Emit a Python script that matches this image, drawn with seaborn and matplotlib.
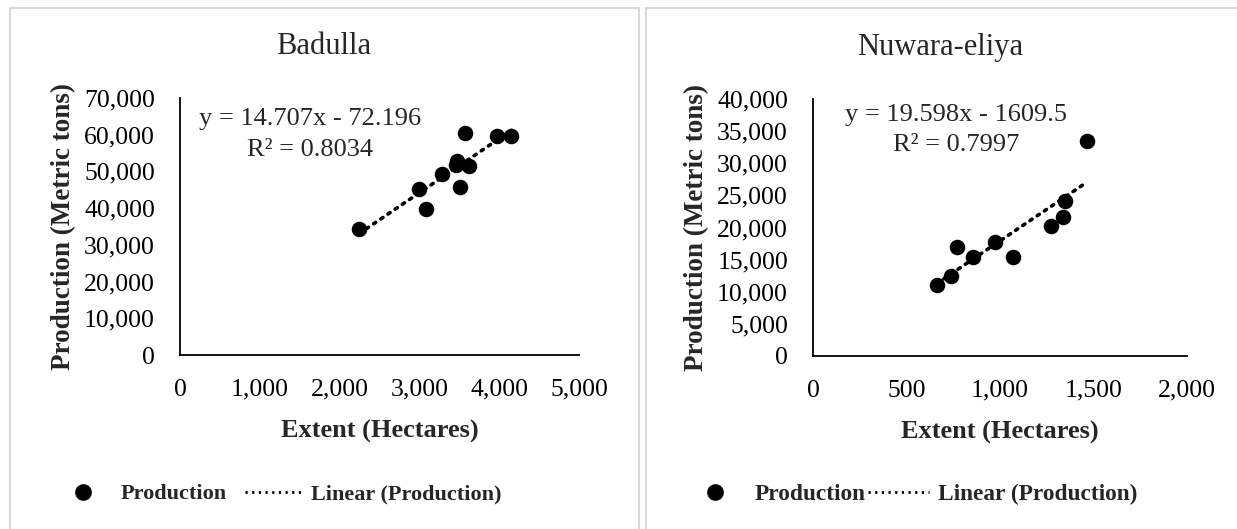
import numpy as np
import pandas as pd
import matplotlib
matplotlib.use('Agg')
import matplotlib.pyplot as plt
import matplotlib.ticker as mticker
from matplotlib.lines import Line2D
from matplotlib.patches import Rectangle
import seaborn as sns

# values
badulla_extent = [2247, 2999, 3079, 3287, 3455, 3471, 3622, 3509, 3575, 3969, 4152]
badulla_production = [34320, 45140, 39850, 49220, 51760, 52850, 51570, 45850, 60390, 59740, 59740]

nuwara_extent = [661, 738, 768, 854, 973, 1068, 1271, 1335, 1348, 1467]
nuwara_production = [11050, 12450, 17010, 15450, 17780, 15360, 20270, 21670, 24160, 33500]

titles = ['Badulla', 'Nuwara-eliya']
equations = [('y = 14.707x - 72.196', 'R² = 0.8034'),
             ('y = 19.598x - 1609.5', 'R² = 0.7997')]
x_label = 'Extent (Hectares)'
y_label = 'Production (Metric tons)'

sns.set_theme(style='white')
plt.rcParams['font.family'] = ['Liberation Serif', 'DejaVu Serif']

W, H = 1237, 529
fig = plt.figure(figsize=(W / 100, H / 100), dpi=100)

# chart area frames (light grey, like Excel)
fig.patches.append(Rectangle((10 / W, -0.05), 629 / W, 1.05 - 8 / H,
                             transform=fig.transFigure, fill=False,
                             ec='#d9d9d9', lw=1.5))
fig.patches.append(Rectangle((646 / W, -0.05), 0.6, 1.05 - 8 / H,
                             transform=fig.transFigure, fill=False,
                             ec='#d9d9d9', lw=1.5))

ax1 = fig.add_axes([180 / W, 1 - 355 / H, 399 / W, 257 / H])
ax2 = fig.add_axes([813 / W, 1 - 356 / H, 374 / W, 257 / H])

panels = [
    (ax1, badulla_extent, badulla_production, (0, 5000, 1000), (0, 70000, 10000)),
    (ax2, nuwara_extent, nuwara_production, (0, 2000, 500), (0, 40000, 5000)),
]

fmt = mticker.FuncFormatter(lambda v, p: '{:,.0f}'.format(v))

for i, (ax, xs, ys, xl, yl) in enumerate(panels):
    df = pd.DataFrame({'Extent': xs, 'Production': ys})
    sns.regplot(data=df, x='Extent', y='Production', ax=ax, ci=None,
                scatter=False, truncate=True,
                line_kws=dict(color='black', lw=2.6, ls=(0, (0.7, 1.7)),
                              dash_capstyle='round'))
    sns.scatterplot(data=df, x='Extent', y='Production', ax=ax,
                    color='black', s=125, edgecolor='black', linewidth=0, zorder=3)

    ax.set_xlim(xl[0], xl[1])
    ax.set_ylim(yl[0], yl[1])
    ax.set_xticks(np.arange(xl[0], xl[1] + 1, xl[2]))
    ax.set_yticks(np.arange(yl[0], yl[1] + 1, yl[2]))
    ax.xaxis.set_major_formatter(fmt)
    ax.yaxis.set_major_formatter(fmt)
    ax.tick_params(axis='both', length=0, labelsize=18.5, colors='black')
    ax.tick_params(axis='x', pad=17)
    ax.tick_params(axis='y', pad=18)
    for s in ['top', 'right']:
        ax.spines[s].set_visible(False)
    for s in ['left', 'bottom']:
        ax.spines[s].set_color('black')
        ax.spines[s].set_linewidth(1.3)
    ax.grid(False)
    ax.set_xlabel(x_label, fontsize=19, fontweight='bold', labelpad=14)
    ax.set_ylabel(y_label, fontsize=19.5, fontweight='bold', labelpad=6)

# titles and trendline equations
fig.text(324 / W, 1 - 47 / H, titles[0], fontsize=22, ha='center', va='center')
fig.text(940 / W, 1 - 47 / H, titles[1], fontsize=22, ha='center', va='center')
fig.text(310 / W, 1 - 119 / H, equations[0][0], fontsize=19, ha='center', va='center')
fig.text(310 / W, 1 - 150 / H, equations[0][1], fontsize=19, ha='center', va='center')
fig.text(956 / W, 1 - 115 / H, equations[1][0], fontsize=19, ha='center', va='center')
fig.text(956 / W, 1 - 145 / H, equations[1][1], fontsize=19, ha='center', va='center')

# legends
handles = [
    Line2D([], [], ls='none', marker='o', color='black', markersize=11),
    Line2D([], [], color='black', lw=2.0, ls=(0, (0.8, 1.6))),
]
labels = ['Production', 'Linear (Production)']
for ax, cx, colsp, fs in [(ax1, 278 / W, 0.8, 16), (ax2, 911 / W, 0.1, 16.8)]:
    ax.legend(handles, labels, loc='center', bbox_to_anchor=(cx, 1 - 494 / H),
              bbox_transform=fig.transFigure, ncol=2, frameon=False,
              prop=dict(size=fs, weight='bold'), handlelength=2.6,
              handletextpad=0.4, columnspacing=colsp)

fig.savefig('out.png', dpi=100, facecolor='white')
